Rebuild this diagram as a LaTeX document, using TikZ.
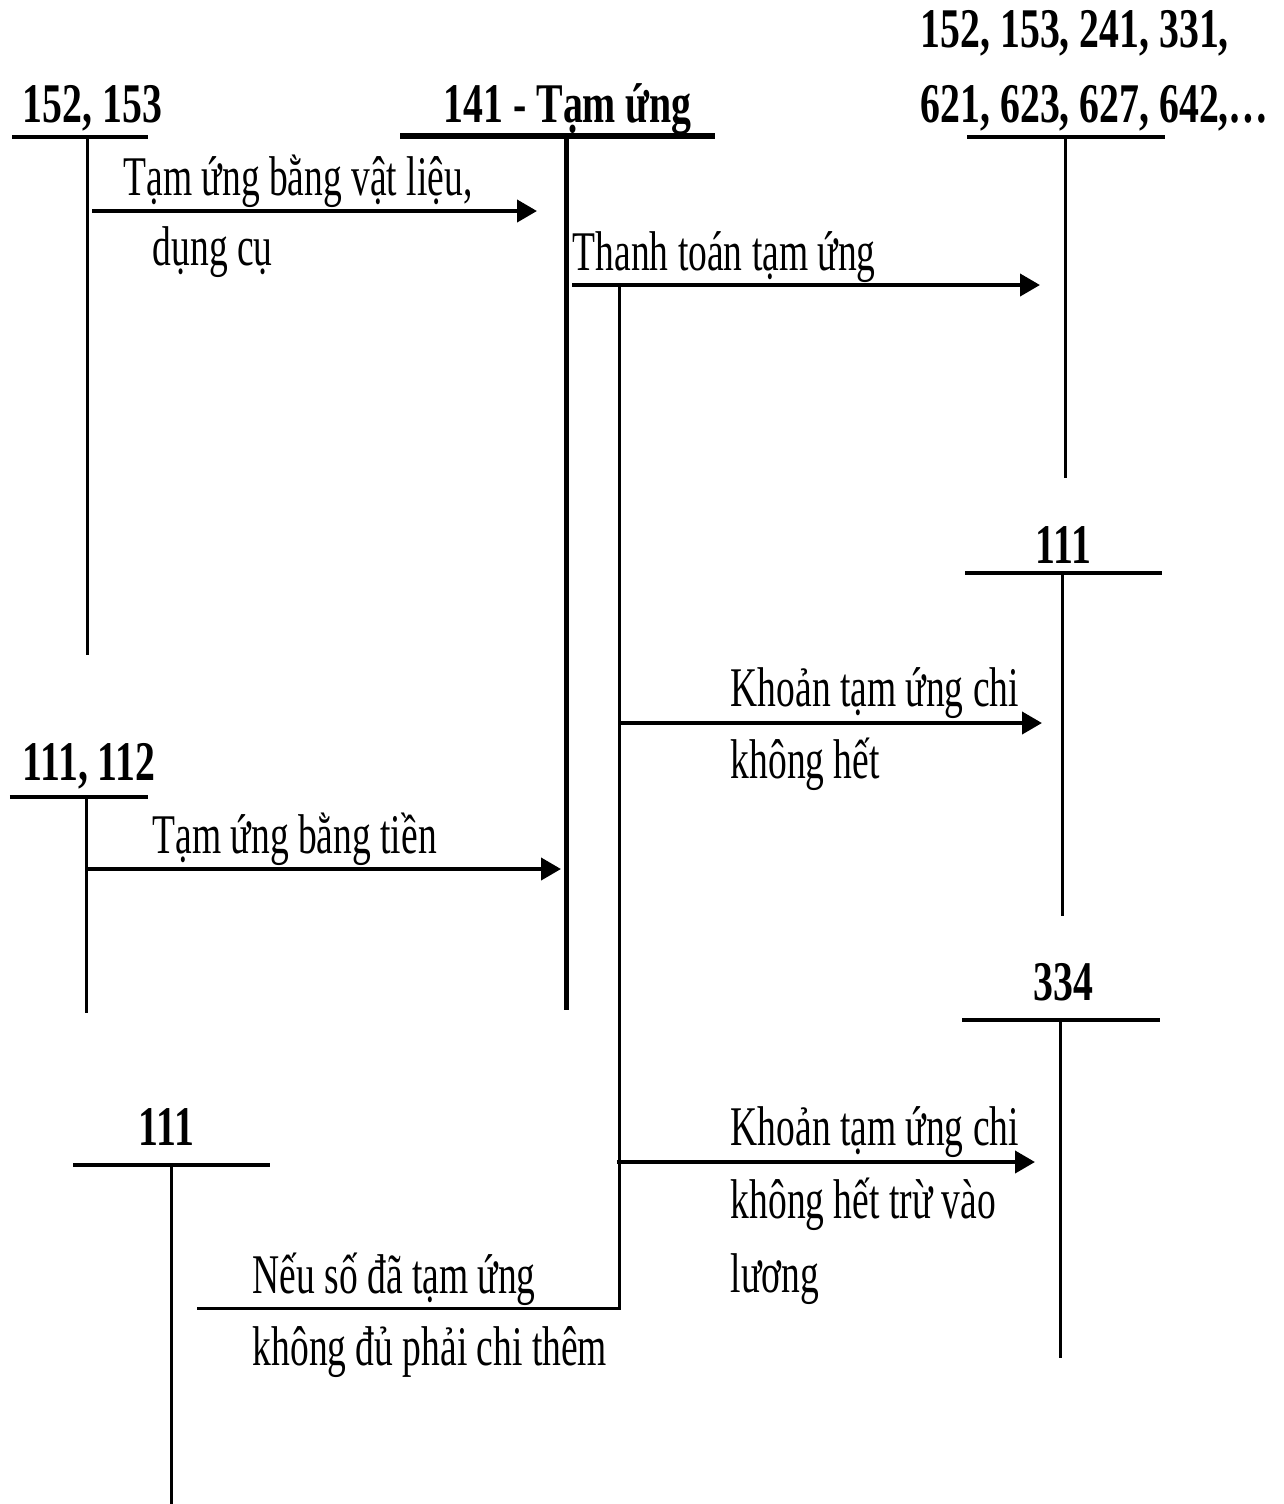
\documentclass[tikz,border=0pt]{standalone}
\usepackage{fontspec}
\setmainfont{Liberation Serif}[FakeStretch=0.67, BoldFeatures={FakeStretch=0.71}]
\usetikzlibrary{positioning, arrows.meta}

\begin{document}
\begin{tikzpicture}
[
    x=0.25pt, y=-0.25pt,
    % Accounts are T-shapes named T-<name>: a bar on top and a stem below it.
    % Stem ends are coordinates T-<name>-top and T-<name>-bot.
    % Arrow ends are coordinates F<k>-s and F<k>-e.
]

%=================================== Start ===================================
\tikzstyle{acc}  = [font=\bfseries\fontsize{14}{16}\selectfont, inner sep=0pt, anchor=base west]
\tikzstyle{lbl}  = [font=\fontsize{14}{16}\selectfont, inner sep=0pt, anchor=base west]
\tikzstyle{bar}  = [line width=1pt]
\tikzstyle{stem} = [line width=0.75pt]
\tikzstyle{flow} = [line width=1pt, -{Triangle[length=5pt, width=5.5pt]}]

\useasboundingbox (0,0) rectangle (1284,1504);

{
    % Account titles
    \node[acc] (T-152)   at (22,122)   {152, 153};
    \node[acc] (T-141)   at (443,122)  {141 - Tạm ứng};
    \node[acc] (T-cost1) at (920,47)   {152, 153, 241, 331,};
    \node[acc] (T-cost2) at (920,122)  {621, 623, 627, 642,…};
    \node[acc] (T-111r)  at (1035,563) {111};
    \node[acc] (T-111)   at (22,780)   {111, 112};
    \node[acc] (T-334)   at (1033,1000) {334};
    \node[acc] (T-111b)  at (138,1145) {111};

    % Bars and stems: name / bar left / bar right / stem x / top / bottom
    \foreach \n / \xl / \xr / \xs / \yt / \yb in
        {152/12/148/87/137/655, cost/967/1165/1065/137/478,
         111r/965/1162/1062/573/916, 111/10/148/86/797/1013,
         334/962/1160/1060/1020/1358, 111b/73/270/171/1165/1504}
    {
        \coordinate (T-\n-l) at (\xl,\yt);
        \coordinate (T-\n-r) at (\xr,\yt);
        \coordinate (T-\n-top) at (\xs,\yt);
        \coordinate (T-\n-bot) at (\xs,\yb);
        \draw[bar]  (T-\n-l) -- (T-\n-r);
        \draw[stem] (T-\n-top) -- (T-\n-bot);
    }

    % 141 is drawn heavier
    \coordinate (T-141-l) at (400,136);
    \coordinate (T-141-r) at (715,136);
    \coordinate (T-141-top) at (566,136);
    \coordinate (T-141-bot) at (566,1010);
    \draw[line width=1.5pt] (T-141-l) -- (T-141-r);
    \draw[line width=1.25pt] (T-141-top) -- (T-141-bot);

    % Settlement branch hanging off 141
    \coordinate (B-top) at (619,287);
    \coordinate (B-bot) at (619,1308);
    \coordinate (B-end) at (197,1308);
    \draw[stem] (B-top) -- (B-bot) -- (B-end);

    % Flows
    \coordinate (F1-s) at (92,211);   \coordinate (F1-e) at (537,211);
    \coordinate (F2-s) at (572,285);  \coordinate (F2-e) at (1040,285);
    \coordinate (F3-s) at (621,723);  \coordinate (F3-e) at (1042,723);
    \coordinate (F4-s) at (86,869);   \coordinate (F4-e) at (561,869);
    \coordinate (F5-s) at (617,1162); \coordinate (F5-e) at (1035,1162);
    \foreach \k in {1,...,5}
        \draw[flow] (F\k-s) -- (F\k-e);

    % Flow labels
    \node[lbl] (L1a) at (123,195)  {Tạm ứng bằng vật liệu,};
    \node[lbl] (L1b) at (152,265)  {dụng cụ};
    \node[lbl] (L2)  at (572,270)  {Thanh toán tạm ứng};
    \node[lbl] (L3a) at (730,706)  {Khoản tạm ứng chi};
    \node[lbl] (L3b) at (730,778)  {không hết};
    \node[lbl] (L4)  at (152,853)  {Tạm ứng bằng tiền};
    \node[lbl] (L5a) at (730,1145) {Khoản tạm ứng chi};
    \node[lbl] (L5b) at (730,1218) {không hết trừ vào};
    \node[lbl] (L5c) at (730,1292) {lương};
    \node[lbl] (L6a) at (252,1293) {Nếu số đã tạm ứng};
    \node[lbl] (L6b) at (252,1365) {không đủ phải chi thêm};
}
%==================================== END ====================================

\end{tikzpicture}
\end{document}
